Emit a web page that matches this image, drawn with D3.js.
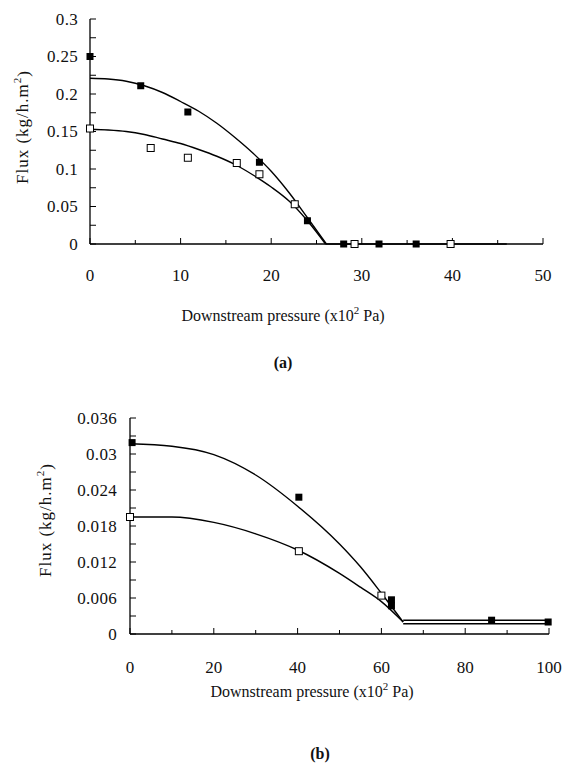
<!DOCTYPE html>
<html><head><meta charset="utf-8">
<script src="https://cdn.jsdelivr.net/npm/d3@7"></script>
<style>
body{margin:0;background:#fff;}
text{font-family:"Liberation Serif","Times New Roman",serif;fill:#111;}
</style></head>
<body>
<svg id="c" width="566" height="767"></svg>
<script>
// ---------- Panel (a) data ----------
const aXTicks = [0, 10, 20, 30, 40, 50];
const aYTicks = [0, 0.05, 0.1, 0.15, 0.2, 0.25, 0.3];
const aYTickLabels = ["0", "0.05", "0.1", "0.15", "0.2", "0.25", "0.3"];
const aFilledX = [0, 5.6, 10.8, 18.7, 24.0, 28.0, 31.9, 36.0];
const aFilledY = [0.250, 0.211, 0.176, 0.109, 0.031, 0, 0, 0];
const aOpenX = [0, 6.7, 10.8, 16.2, 18.7, 22.6, 29.2, 39.8];
const aOpenY = [0.154, 0.128, 0.115, 0.108, 0.093, 0.053, 0, 0];
const aFitFilledX = [0, 2, 4, 6, 8, 10, 12, 14, 16, 18, 20, 22, 24, 26.1];
const aFitFilledY = [0.221, 0.220, 0.217, 0.211, 0.202, 0.190, 0.177, 0.161, 0.142, 0.121, 0.097, 0.068, 0.035, 0];
const aFitOpenX = [0, 2, 4, 6, 8, 10, 12, 14, 16, 18, 20, 22, 24, 26.0];
const aFitOpenY = [0.153, 0.152, 0.150, 0.146, 0.140, 0.134, 0.126, 0.117, 0.106, 0.092, 0.076, 0.057, 0.031, 0];
const aFlatX = [26.0, 46];
const aFlatY = [0, 0];

// ---------- Panel (b) data ----------
const bXTicks = [0, 20, 40, 60, 80, 100];
const bYTicks = [0, 0.006, 0.012, 0.018, 0.024, 0.03, 0.036];
const bYTickLabels = ["0", "0.006", "0.012", "0.018", "0.024", "0.03", "0.036"];
const bFilledX = [0.5, 40.3, 62.4, 62.4, 86.3, 99.8];
const bFilledY = [0.0319, 0.0228, 0.0057, 0.0047, 0.0023, 0.0020];
const bOpenX = [0, 40.3, 60.0];
const bOpenY = [0.0195, 0.0138, 0.0064];
const bFitFilledX = [0, 10, 20, 30, 40, 50, 55, 60, 65.2];
const bFitFilledY = [0.0317, 0.0313, 0.0299, 0.0265, 0.0213, 0.0150, 0.0112, 0.0068, 0.0020];
const bFitOpenX = [0, 10, 20, 30, 40, 50, 55, 60, 65.2];
const bFitOpenY = [0.0195, 0.0195, 0.0186, 0.0167, 0.0140, 0.0101, 0.0078, 0.0054, 0.0020];
const bFlatX = [65.2, 100];
const bFlatHighY = [0.0023, 0.0023];
const bFlatLowY = [0.0017, 0.0017];

const xTitle = "Downstream pressure (x10";
const yTitle = "Flux (kg/h.m";

const svg = d3.select("#c");
const FS_TICK = 17;
const FS_TITLE = 16;

function panel(cfg){
  const g = svg.append("g");
  const x = d3.scaleLinear().domain(cfg.xDomain).range(cfg.xRange);
  const y = d3.scaleLinear().domain(cfg.yDomain).range(cfg.yRange);
  g.append("line").attr("x1", x(cfg.xDomain[0])).attr("x2", x(cfg.xDomain[1]))
    .attr("y1", y(0)).attr("y2", y(0)).attr("stroke","#000").attr("stroke-width",1.3);
  g.append("line").attr("x1", x(0)).attr("x2", x(0))
    .attr("y1", y(cfg.yDomain[0])).attr("y2", y(cfg.yDomain[1])).attr("stroke","#000").attr("stroke-width",1.3);
  const yt = d3.range(cfg.yDomain[0], cfg.yDomain[1] + cfg.yMinor/2, cfg.yMinor);
  g.selectAll(null).data(yt).enter().append("line")
    .attr("x1", x(0)).attr("x2", x(0) + 6)
    .attr("y1", d => y(d)).attr("y2", d => y(d)).attr("stroke","#000").attr("stroke-width",1);
  const xt = d3.range(cfg.xDomain[0], cfg.xDomain[1] + cfg.xMinor/2, cfg.xMinor);
  g.selectAll(null).data(xt).enter().append("line")
    .attr("x1", d => x(d)).attr("x2", d => x(d))
    .attr("y1", y(0)).attr("y2", (d,i) => y(0) - (i % 2 === 0 ? 6 : 4))
    .attr("stroke","#000").attr("stroke-width",1);
  g.selectAll(null).data(cfg.yTicks).enter().append("text")
    .attr("x", x(0) - cfg.yLabelGap).attr("y", d => y(d)).attr("dy","0.35em")
    .attr("text-anchor","end").attr("font-size",FS_TICK).attr("letter-spacing","0.3px")
    .text((d,i) => cfg.yTickLabels[i]);
  g.selectAll(null).data(cfg.xTicks).enter().append("text")
    .attr("x", d => x(d)).attr("y", cfg.xLabelY).attr("dy","0.35em")
    .attr("text-anchor","middle").attr("font-size",FS_TICK)
    .text(d => d);
  const xt2 = g.append("text").attr("x", cfg.xTitleX).attr("y", cfg.xTitleY).attr("dy","0.35em")
    .attr("text-anchor","middle").attr("font-size",FS_TITLE);
  xt2.append("tspan").text(xTitle);
  xt2.append("tspan").attr("font-size",11).attr("dy","-0.6em").text("2");
  xt2.append("tspan").attr("dy","0.45em").text(" Pa)");
  const yt2 = g.append("text").attr("transform", `translate(${cfg.yTitleX},${cfg.yTitleY}) rotate(-90)`)
    .attr("dy","0.35em").attr("text-anchor","middle").attr("font-size",17).attr("letter-spacing","1px");
  yt2.append("tspan").text(yTitle);
  yt2.append("tspan").attr("font-size",11).attr("dy","-0.6em").text("2");
  yt2.append("tspan").attr("dy","0.45em").text(")");
  g.append("text").attr("x", cfg.labelX).attr("y", cfg.labelY).attr("dy","0.35em")
    .attr("text-anchor","middle").attr("font-size",16).attr("font-weight","bold").text(cfg.label);

  const line = d3.line().x(d => x(d[0])).y(d => y(d[1])).curve(d3.curveMonotoneX);
  cfg.lines.forEach(L => {
    g.append("path").datum(d3.zip(L[0], L[1])).attr("d", line)
      .attr("fill","none").attr("stroke","#000").attr("stroke-width",1.4);
  });
  const S = 7;
  g.selectAll(null).data(d3.zip(cfg.openX, cfg.openY)).enter().append("rect")
    .attr("x", d => x(d[0]) - S/2).attr("y", d => y(d[1]) - S/2)
    .attr("width", S).attr("height", S).attr("fill","#fff").attr("stroke","#000").attr("stroke-width",1);
  g.selectAll(null).data(d3.zip(cfg.filledX, cfg.filledY)).enter().append("rect")
    .attr("x", d => x(d[0]) - S/2).attr("y", d => y(d[1]) - S/2)
    .attr("width", S).attr("height", S).attr("fill","#000");
}

panel({
  xDomain:[0,50], xRange:[90,543], yDomain:[0,0.3], yRange:[244,19],
  yMinor:0.025, xMinor:5, yTicks:aYTicks, yTickLabels:aYTickLabels, xTicks:aXTicks,
  yLabelGap:12, xLabelY:275, xTitleX:283, xTitleY:315, yTitleX:22, yTitleY:127,
  labelX:283, labelY:362, label:"(a)",
  lines:[[aFitFilledX,aFitFilledY],[aFitOpenX,aFitOpenY],[aFlatX,aFlatY]],
  filledX:aFilledX, filledY:aFilledY, openX:aOpenX, openY:aOpenY
});
panel({
  xDomain:[0,100], xRange:[130,549], yDomain:[0,0.036], yRange:[634,418],
  yMinor:0.003, xMinor:10, yTicks:bYTicks, yTickLabels:bYTickLabels, xTicks:bXTicks,
  yLabelGap:13, xLabelY:667, xTitleX:312, xTitleY:691, yTitleX:45, yTitleY:520,
  labelX:320, labelY:753, label:"(b)",
  lines:[[bFitFilledX,bFitFilledY],[bFitOpenX,bFitOpenY],[bFlatX,bFlatHighY],[bFlatX,bFlatLowY]],
  filledX:bFilledX, filledY:bFilledY, openX:bOpenX, openY:bOpenY
});
</script>
</body></html>
